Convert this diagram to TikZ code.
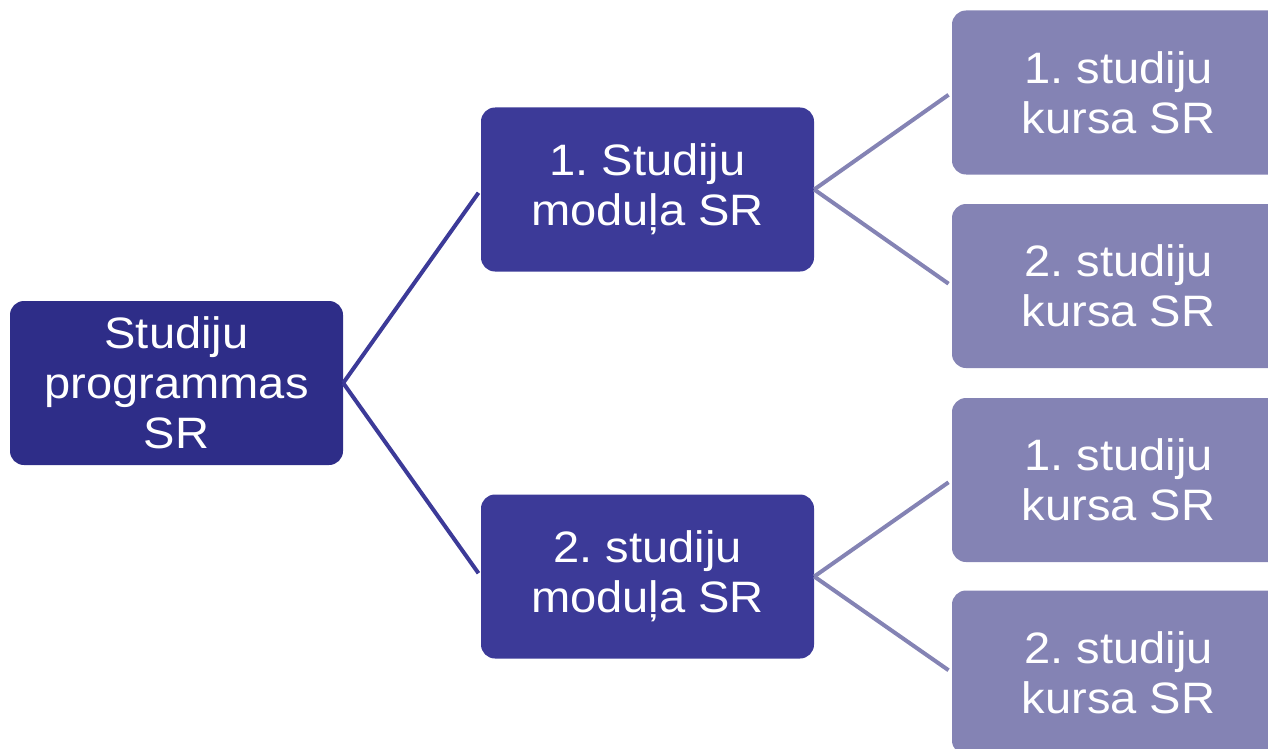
\documentclass[tikz,border=0pt]{standalone}
\usepackage{fontspec}
\setmainfont{Liberation Sans}[FakeStretch=1.07]
\frenchspacing
\definecolor{rootc}{RGB}{46,45,136}
\definecolor{modc}{RGB}{60,58,152}
\definecolor{leafc}{RGB}{132,131,180}
\tikzset{
  box/.style={rectangle, rounded corners=14pt, minimum width=333pt, minimum height=164pt,
    inner sep=0pt, align=center, text=white, font=\fontsize{44}{50}\selectfont},
  rootbox/.style={box, fill=rootc},
  modbox/.style={box, fill=modc},
  leafbox/.style={box, fill=leafc},
  link/.style={line width=4pt, shorten >=4pt},
}
\begin{document}
\begin{tikzpicture}[x=1pt,y=-1pt]
\clip (0,0) rectangle (1268,749);
\node[rootbox] (root) at (176.5,383) {Studiju\\programmas\\SR};
\node[modbox] (m1) at (647.5,189.5) {1. Studiju\\moduļa SR};
\node[modbox] (m2) at (647.5,576.5) {2. studiju\\moduļa SR};
\node[leafbox] (l1) at (1118.5,92.5) {1. studiju\\kursa SR};
\node[leafbox] (l2) at (1118.5,286) {2. studiju\\kursa SR};
\node[leafbox] (l3) at (1118.5,480) {1. studiju\\kursa SR};
\node[leafbox] (l4) at (1118.5,672.5) {2. studiju\\kursa SR};
\draw[link, draw=modc] (root.east) -- (m1.west);
\draw[link, draw=modc] (root.east) -- (m2.west);
\draw[link, draw=leafc] (m1.east) -- (l1.west);
\draw[link, draw=leafc] (m1.east) -- (l2.west);
\draw[link, draw=leafc] (m2.east) -- (l3.west);
\draw[link, draw=leafc] (m2.east) -- (l4.west);
\end{tikzpicture}
\end{document}
